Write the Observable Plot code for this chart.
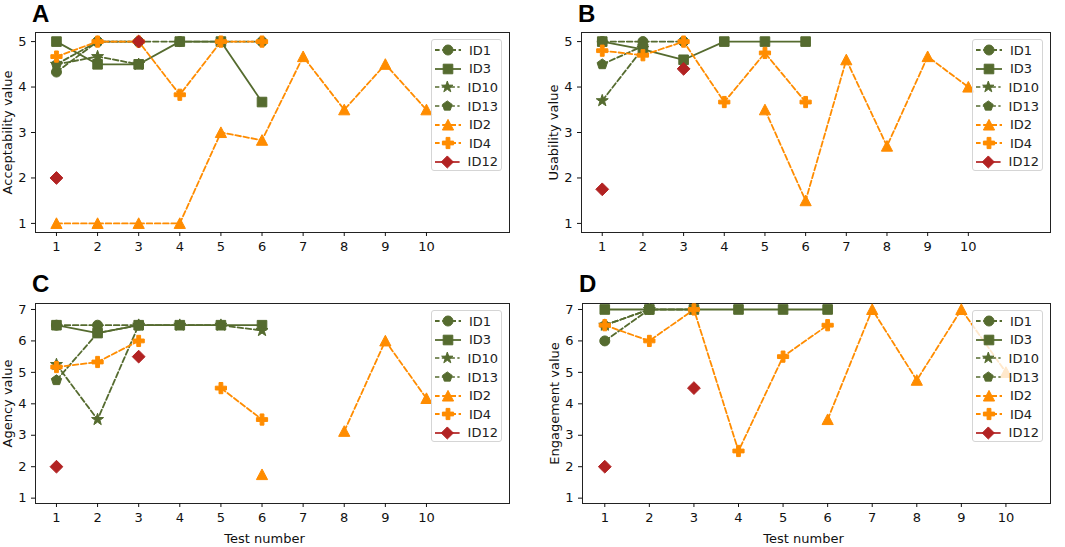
<!DOCTYPE html>
<html>
<head>
<meta charset="utf-8">
<script src="https://cdn.jsdelivr.net/npm/d3@7"></script>
<script src="https://cdn.jsdelivr.net/npm/@observablehq/plot@0.6"></script>
<style>
  html, body { margin: 0; padding: 0; background: #fff; }
  #root { position: relative; width: 1065px; height: 547px; overflow: hidden; font-family: "DejaVu Sans", sans-serif; }
  .panel { position: absolute; }
  .panel svg { display: block; }
  .letter { position: absolute; font-family: "Liberation Sans", Arial, sans-serif; font-weight: bold; font-size: 24px; line-height: 1; color: #000; }
  .legend { position: absolute; background: rgba(255,255,255,0.8); border: 1px solid #d5d5d5; border-radius: 3px; box-sizing: border-box; padding: 1px 3px 0 3px; }
  .legend .row { display: flex; align-items: center; height: 18.6px; }
  .legend .row span { font-size: 13px; color: #222; margin-left: 8px; white-space: nowrap; }
</style>
</head>
<body>
<div id="root"></div>
<script>
// ---- data ----
const testNumbers = [1, 2, 3, 4, 5, 6, 7, 8, 9, 10];
const seriesIds = ["ID1", "ID3", "ID10", "ID13", "ID2", "ID4", "ID12"];
const xTicks = [1, 2, 3, 4, 5, 6, 7, 8, 9, 10];
const yTicks5 = [1, 2, 3, 4, 5];
const yTicks7 = [1, 2, 3, 4, 5, 6, 7];

// values per test number (null = no test)
const acceptabilityID1  = [4.33, 5, 5, 5, 5, 5];
const acceptabilityID3  = [5, 4.5, 4.5, 5, 5, 3.67];
const acceptabilityID10 = [4.5, 4.67, 4.5];
const acceptabilityID13 = [4.5, 5, 5];
const acceptabilityID2  = [1, 1, 1, 1, 3, 2.83, 4.67, 3.5, 4.5, 3.5];
const acceptabilityID4  = [4.67, 5, 5, 3.83, 5, 5];
const acceptabilityID12 = [2, null, 5];

const usabilityID1  = [5, 5, 5];
const usabilityID3  = [5, 4.83, 4.6, 5, 5, 5];
const usabilityID10 = [3.7, 4.85];
const usabilityID13 = [4.5, 4.9];
const usabilityID2  = [null, null, null, null, 3.5, 1.5, 4.6, 2.7, 4.67, 4];
const usabilityID4  = [4.8, 4.7, 5, 3.67, 4.75, 3.67];
const usabilityID12 = [1.75, null, 4.4];

const agencyID1  = [6.5, 6.5, 6.5];
const agencyID3  = [6.5, 6.25, 6.5, 6.5, 6.5, 6.5];
const agencyID10 = [5.25, 3.5, 6.5, 6.5, 6.5, 6.33];
const agencyID13 = [4.75, 6.25, 6.5];
const agencyID2  = [null, null, null, null, null, 1.75, null, 3.125, 6, 4.17];
const agencyID4  = [5.17, 5.33, 6, null, 4.5, 3.5];
const agencyID12 = [2, null, 5.5];

const engagementID1  = [6, 7, 7];
const engagementID3  = [7, 7, 7, 7, 7, 7];
const engagementID10 = [6.5, 7];
const engagementID13 = [6.5, 7];
const engagementID2  = [null, null, null, null, null, 3.5, 7, 4.75, 7, 5];
const engagementID4  = [6.5, 6, 7, 2.5, 5.5, 6.5];
const engagementID12 = [2, null, 4.5];

// ---- styles ----
const GREEN = "#556B2F", ORANGE = "#FF8C00", RED = "#B22222";
const seriesColors = [GREEN, GREEN, GREEN, GREEN, ORANGE, ORANGE, RED];
const DASH = "5.6,2.6";
const seriesDash = [DASH, null, DASH, DASH, DASH, DASH, null];

function scaleK(size) { return Math.sqrt(size / Math.PI) / 5; }
const symCircle = { draw(c, size) { const r = Math.sqrt(size / Math.PI); c.moveTo(r, 0); c.arc(0, 0, r, 0, 2 * Math.PI); } };
const symSquare = { draw(c, size) { const s = 4.8 * scaleK(size); c.moveTo(-s, -s); c.lineTo(s, -s); c.lineTo(s, s); c.lineTo(-s, s); c.closePath(); } };
const symStar = { draw(c, size) { const k = scaleK(size), R = 6.3 * k, r = 2.5 * k;
  for (let i = 0; i < 10; i++) { const a = -Math.PI / 2 + i * Math.PI / 5, rr = i % 2 ? r : R; const x = rr * Math.cos(a), y = rr * Math.sin(a); i ? c.lineTo(x, y) : c.moveTo(x, y); } c.closePath(); } };
const symPentagon = { draw(c, size) { const R = 5.4 * scaleK(size);
  for (let i = 0; i < 5; i++) { const a = -Math.PI / 2 + i * 2 * Math.PI / 5; const x = R * Math.cos(a), y = R * Math.sin(a); i ? c.lineTo(x, y) : c.moveTo(x, y); } c.closePath(); } };
const symTriangle = { draw(c, size) { const s = 5.6 * scaleK(size); c.moveTo(0, -s); c.lineTo(s, s * 0.9); c.lineTo(-s, s * 0.9); c.closePath(); } };
const symPlus = { draw(c, size) { const k = scaleK(size), e = 5.6 * k, a = 1.9 * k;
  c.moveTo(-a, -e); c.lineTo(a, -e); c.lineTo(a, -a); c.lineTo(e, -a); c.lineTo(e, a); c.lineTo(a, a); c.lineTo(a, e); c.lineTo(-a, e); c.lineTo(-a, a); c.lineTo(-e, a); c.lineTo(-e, -a); c.lineTo(-a, -a); c.closePath(); } };
const symDiamond = { draw(c, size) { const s = 6.4 * scaleK(size); c.moveTo(0, -s); c.lineTo(s, 0); c.lineTo(0, s); c.lineTo(-s, 0); c.closePath(); } };
const seriesSymbols = [symCircle, symSquare, symStar, symPentagon, symTriangle, symPlus, symDiamond];

const panels = [
  { letter: "A", label: "Acceptability value", values: [acceptabilityID1, acceptabilityID3, acceptabilityID10, acceptabilityID13, acceptabilityID2, acceptabilityID4, acceptabilityID12],
    xDomain: [0.49, 12.02], yDomain: [0.8, 5.2], yTicks: yTicks5, xLabel: null, xLabelDx: 0, left: 0, top: 0, width: 530, height: 270, mt: 32, mr: 21, mb: 38, ml: 35 },
  { letter: "B", label: "Usability value", values: [usabilityID1, usabilityID3, usabilityID10, usabilityID13, usabilityID2, usabilityID4, usabilityID12],
    xDomain: [0.49, 12.02], yDomain: [0.8, 5.2], yTicks: yTicks5, xLabel: null, xLabelDx: 0, left: 530, top: 0, width: 535, height: 270, mt: 32, mr: 15, mb: 38, ml: 51 },
  { letter: "C", label: "Agency value", values: [agencyID1, agencyID3, agencyID10, agencyID13, agencyID2, agencyID4, agencyID12],
    xDomain: [0.49, 12.02], yDomain: [0.83, 7.19], yTicks: yTicks7, xLabel: "Test number", xLabelDx: -8, left: 0, top: 270, width: 530, height: 277, mt: 33, mr: 21, mb: 44, ml: 35 },
  { letter: "D", label: "Engagement value", values: [engagementID1, engagementID3, engagementID10, engagementID13, engagementID2, engagementID4, engagementID12],
    xDomain: [0.5, 11.0], yDomain: [0.83, 7.19], yTicks: yTicks7, xLabel: "Test number", xLabelDx: -13, left: 530, top: 270, width: 535, height: 277, mt: 33, mr: 15, mb: 44, ml: 52 }
];

const root = document.getElementById("root");

for (const p of panels) {
  const marks = [
    Plot.frame({ stroke: "#222", strokeWidth: 1 }),
    Plot.axisX({ ticks: xTicks, tickSize: 4, tickPadding: 5, tickFormat: d => String(d), fontSize: 13, label: null }),
    Plot.axisY({ ticks: p.yTicks, tickSize: 4, tickPadding: 5, tickFormat: d => String(d), fontSize: 13,
      label: p.label, labelAnchor: "center", labelOffset: 33, labelArrow: false })
  ];
  if (p.xLabel) {
    marks.push(Plot.text([p.xLabel], { text: d => d, frameAnchor: "bottom", lineAnchor: "bottom", dy: 39, dx: p.xLabelDx, fontSize: 13, fill: "#111" }));
  }
  p.values.forEach((vals, i) => {
    const rows = vals.map((v, j) => ({ x: testNumbers[j], y: v }));
    marks.push(Plot.line(rows, { x: "x", y: "y", stroke: seriesColors[i], strokeWidth: 1.8, strokeDasharray: seriesDash[i] }));
    marks.push(Plot.dot(rows.filter(d => d.y != null), { x: "x", y: "y", symbol: seriesSymbols[i], r: 5, fill: seriesColors[i], stroke: seriesColors[i], strokeWidth: 1 }));
  });
  const chart = Plot.plot({
    width: p.width, height: p.height,
    marginTop: p.mt, marginRight: p.mr, marginBottom: p.mb, marginLeft: p.ml,
    x: { domain: p.xDomain },
    y: { domain: p.yDomain },
    style: { fontFamily: "DejaVu Sans, sans-serif", fontSize: "13px", color: "#111", background: "transparent", overflow: "visible" },
    marks
  });
  const div = document.createElement("div");
  div.className = "panel";
  div.style.left = p.left + "px"; div.style.top = p.top + "px";
  div.style.width = p.width + "px"; div.style.height = p.height + "px";
  div.appendChild(chart);

  const letter = document.createElement("div");
  letter.className = "letter";
  letter.textContent = p.letter;
  letter.style.left = (p.ml - 3) + "px";
  letter.style.top = "2px";
  div.appendChild(letter);

  // legend
  const lg = document.createElement("div");
  lg.className = "legend";
  lg.style.right = (p.mr + 7) + "px";
  lg.style.top = (p.mt + 7) + "px";
  lg.style.width = "71px";
  lg.style.height = "132px";
  seriesIds.forEach((id, i) => {
    const row = document.createElement("div");
    row.className = "row";
    const path = d3.symbol(seriesSymbols[i], Math.PI * 25)();
    const dash = seriesDash[i] ? `stroke-dasharray="${DASH}" stroke-dashoffset="1"` : "";
    row.innerHTML = `<svg width="26" height="14" viewBox="0 0 26 14"><line x1="0" x2="26" y1="7" y2="7" stroke="${seriesColors[i]}" stroke-width="1.8" ${dash}></line><path transform="translate(13,7)" d="${path}" fill="${seriesColors[i]}" stroke="${seriesColors[i]}" stroke-width="1"></path></svg><span>${id}</span>`;
    lg.appendChild(row);
  });
  div.appendChild(lg);
  root.appendChild(div);
}
</script>
</body>
</html>
